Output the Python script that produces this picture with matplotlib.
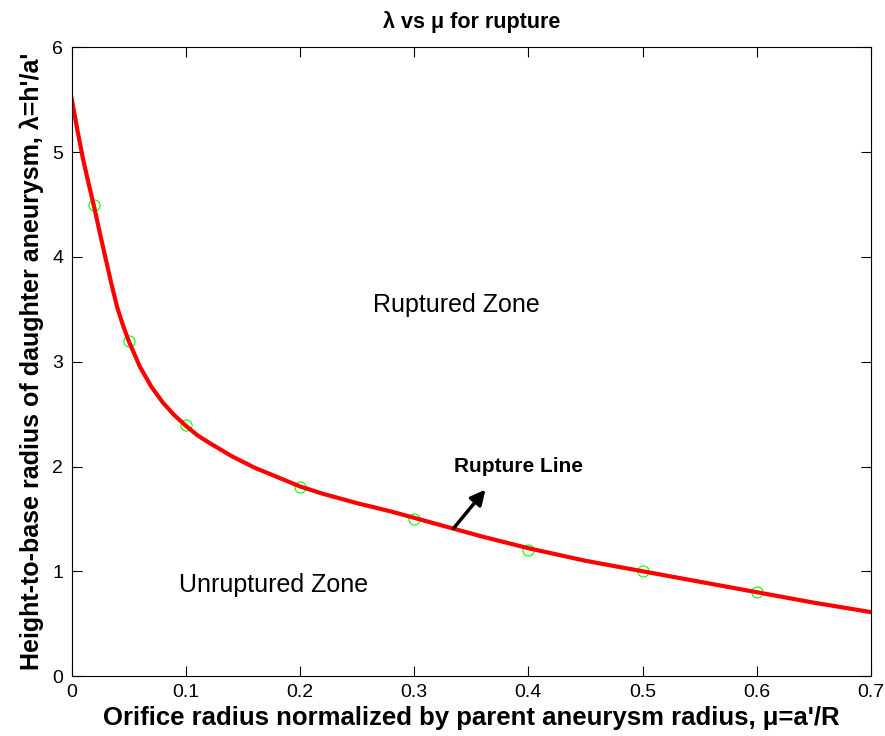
import matplotlib
matplotlib.use("Agg")
import matplotlib.pyplot as plt

plt.rcParams['font.family'] = ['Liberation Sans', 'DejaVu Sans']

# measured points (green circles)
mu_pts = [0.02, 0.05, 0.1, 0.2, 0.3, 0.4, 0.5, 0.6]
lam_pts = [4.5, 3.2, 2.4, 1.8, 1.5, 1.2, 1.0, 0.8]

# fitted rupture line
mu_fit = [0.0, 0.005, 0.01, 0.015, 0.02, 0.025, 0.03, 0.035, 0.04, 0.045,
          0.05, 0.06, 0.07, 0.08, 0.09, 0.1, 0.11, 0.12, 0.14, 0.16, 0.18,
          0.2, 0.22, 0.25, 0.28, 0.3, 0.33, 0.36, 0.4, 0.45, 0.5, 0.55,
          0.6, 0.65, 0.7]
lam_fit = [5.52, 5.22, 4.94, 4.70, 4.47, 4.22, 3.98, 3.74, 3.52, 3.35,
           3.20, 2.95, 2.76, 2.61, 2.49, 2.39, 2.30, 2.23, 2.10, 1.99, 1.90,
           1.81, 1.74, 1.65, 1.57, 1.51, 1.42, 1.33, 1.22, 1.10, 1.00, 0.90,
           0.80, 0.70, 0.61]

fig = plt.figure(figsize=(8.85, 7.36), dpi=100)
ax = fig.add_axes([0.0808, 0.0815, 0.9034, 0.854])

ax.plot(mu_pts, lam_pts, 'o', mfc='none', mec='#00ff00', ms=8, mew=0.8)
ax.plot(mu_fit, lam_fit, '-', color='red', lw=3)

ax.set_xlim(0, 0.7)
ax.set_ylim(0, 6)
ax.set_xticks([0, 0.1, 0.2, 0.3, 0.4, 0.5, 0.6, 0.7])
ax.set_xticklabels(['0', '0.1', '0.2', '0.3', '0.4', '0.5', '0.6', '0.7'])
ax.set_yticks(range(7))
ax.tick_params(direction='in', top=True, right=True, length=7, width=0.8,
               labelsize=14, pad=6)

ax.text(0.337, 3.54, 'Ruptured Zone', fontsize=18, ha='center', va='center')
ax.text(0.177, 0.87, 'Unruptured Zone', fontsize=18, ha='center', va='center')
ax.text(0.391, 2.0, 'Rupture Line', fontsize=15, fontweight='bold',
        ha='center', va='center')
ax.annotate('', xy=(0.364, 1.80), xytext=(0.333, 1.39),
            arrowprops=dict(arrowstyle='-|>', color='black', lw=2.5,
                            mutation_scale=22))

ax.set_title('λ vs μ for rupture', fontsize=15.5, fontweight='bold', pad=14)
ax.set_xlabel("Orifice radius normalized by parent aneurysm radius, μ=a'/R",
              fontsize=18.5, fontweight='bold', labelpad=3)
ax.set_ylabel("Height-to-base radius of daughter aneurysm, λ=h'/a'",
              fontsize=18, fontweight='bold', labelpad=6)

fig.savefig('out.png', dpi=100)
